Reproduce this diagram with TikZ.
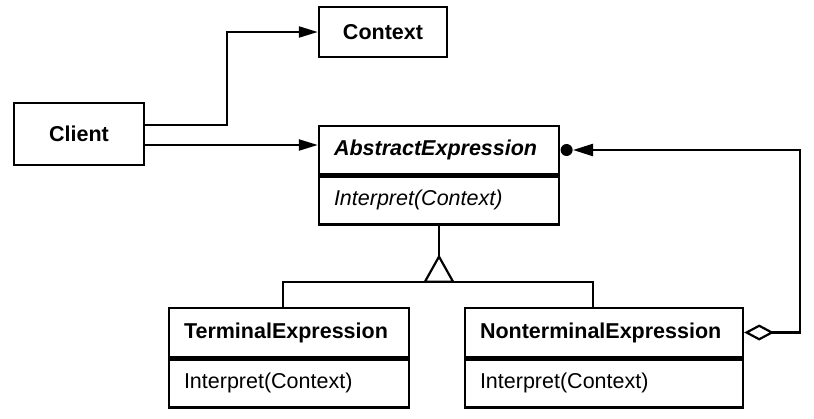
\documentclass[tikz,border=0pt]{standalone}
\usepackage{fontspec}
\setmainfont{Liberation Sans}
\usetikzlibrary{arrows.meta,calc}
\newcommand\umlsize{\fontsize{10.75}{13}\selectfont}
\begin{document}
\begin{tikzpicture}[x=0.5pt,y=-0.5pt,
  box/.style={draw, line width=1.2pt, inner sep=0pt, font=\umlsize\bfseries},
  cls/.style={draw, line width=1.2pt, inner ysep=0pt, inner xsep=7.5pt, align=left, text width=#1},
  clsname/.style={font=\umlsize\bfseries},
  clsop/.style={font=\umlsize},
  conn/.style={line width=1.1pt, line join=miter},
  arr/.style={-{Triangle[length=9.5pt,width=5.5pt]}},
  dotmark/.style={circle, fill, inner sep=0pt, minimum size=6pt}
]
\useasboundingbox (0,0) rectangle (814,418);

% classes
\node[box, minimum width=65pt, minimum height=31pt] (client) at (79,134) {Client};
\node[box, minimum width=64pt, minimum height=25pt] (context) at (383,32) {Context};

\node[cls=105pt, minimum height=24pt, font=\umlsize\bfseries\itshape] (ae) at (439,150) {AbstractExpression};
\node[cls=105pt, minimum height=24pt, font=\umlsize\itshape, anchor=north] (aeop) at (ae.south) {Interpret(Context)};

\node[cls=105pt, minimum height=24.5pt, clsname] (term) at (289,332.5) {TerminalExpression};
\node[cls=105pt, minimum height=24pt, clsop, anchor=north] (termop) at (term.south) {Interpret(Context)};

\node[cls=124pt, minimum height=24.5pt, clsname] (nt) at (604,332.5) {NonterminalExpression};
\node[cls=124pt, minimum height=24pt, clsop, anchor=north] (ntop) at (nt.south) {Interpret(Context)};

% client associations
\coordinate (c1) at ([yshift=4.5pt]client.east);
\coordinate (c2) at ([yshift=-5.5pt]client.east);
\draw[conn, arr] (c1) -| ([xshift=-45.5pt]context.west) -- (context.west);
\draw[conn, arr] (c2) -- (c2 -| ae.west);

% inheritance
\coordinate (apex) at ([yshift=-15.5pt]aeop.south);
\coordinate (tb) at ([yshift=-12.5pt]apex);
\draw[conn] (aeop.south) -- (apex);
\draw[conn] (apex) -- ([xshift=-7pt]tb) -- ([xshift=7pt]tb) -- cycle;
\draw[conn] ([xshift=-3pt]term.north) |- (tb) -| ([xshift=-5.5pt]nt.north);

% aggregation
\node[dotmark, anchor=west] (dot) at (ae.east) {};
\draw[conn, {Diamond[length=15pt,width=8pt,fill=white]}-{Triangle[length=10pt,width=6pt]}]
  (nt.east) -- ++(28pt,0) |- (dot.east);
\end{tikzpicture}
\end{document}
